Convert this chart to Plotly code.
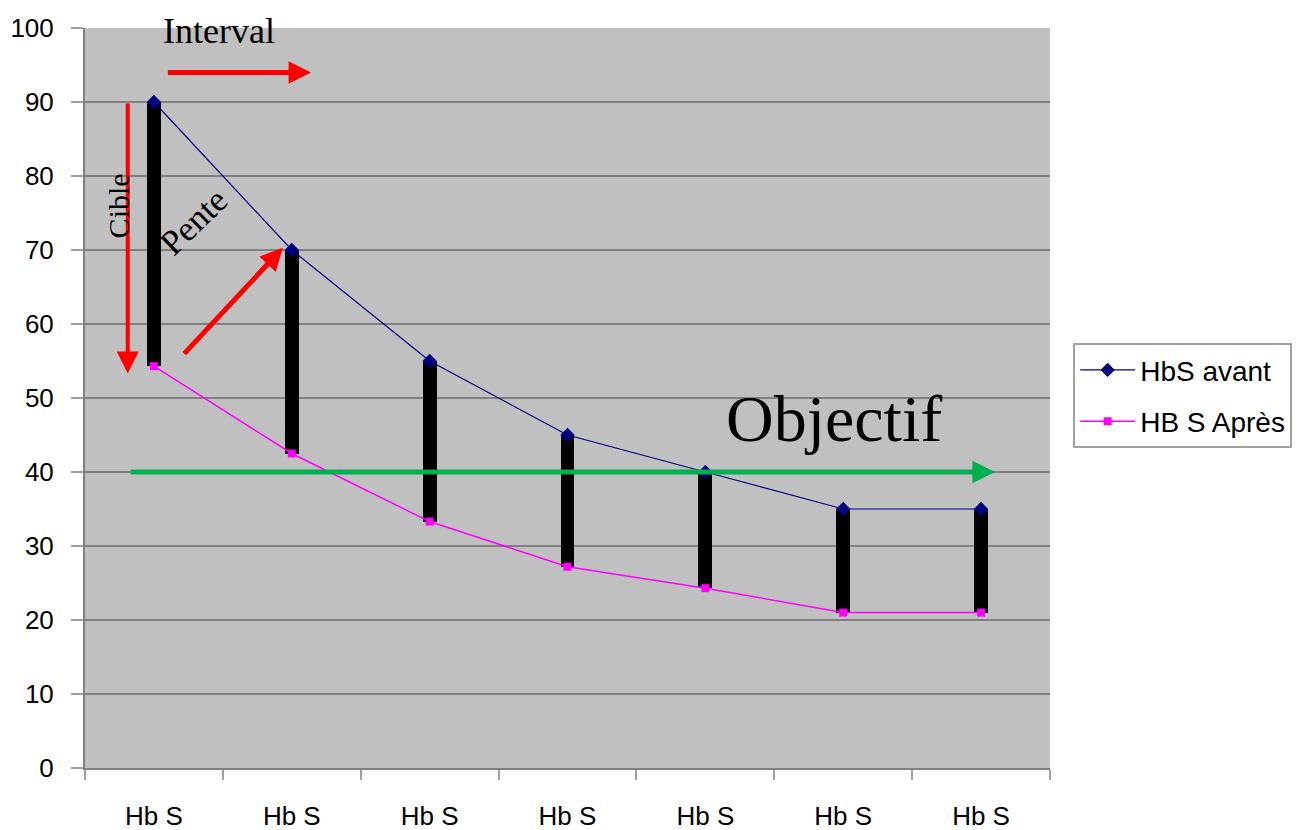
import plotly.graph_objects as go

categories = ["Hb S", "Hb S", "Hb S", "Hb S", "Hb S", "Hb S", "Hb S"]
hbs_avant = [90, 70, 55, 45, 40, 35, 35]
hbs_apres = [54.3, 42.5, 33.3, 27.2, 24.3, 21, 21]
objectif = 40
y_ticks = list(range(0, 101, 10))

x = list(range(len(categories)))

fig = go.Figure()

# high-low bars (black) between the two series
fig.add_trace(go.Bar(
    x=x, y=[a - b for a, b in zip(hbs_avant, hbs_apres)], base=hbs_apres,
    width=0.1, marker=dict(color="black", line=dict(width=0)),
    showlegend=False, hoverinfo="skip"))

fig.add_trace(go.Scatter(
    x=x, y=hbs_avant, mode="lines+markers", name="HbS avant", legendgroup="a",
    line=dict(color="#000080", width=1.2),
    marker=dict(symbol="diamond", size=11, color="#000080")))
fig.add_trace(go.Scatter(
    x=x, y=hbs_apres, mode="lines+markers", name="HB S Après", legendgroup="b",
    line=dict(color="#ff00ff", width=1.5),
    marker=dict(symbol="square", size=8, color="#ff00ff")))

serif = "Liberation Serif, Times New Roman, serif"
sans = "Liberation Sans, Arial, sans-serif"

annotations = [
    # Interval text + arrow
    dict(x=0.47, y=99.6, xref="x", yref="y", text="Interval", showarrow=False,
         font=dict(family=serif, size=36, color="black")),
    dict(x=1.14, y=94.0, ax=0.09, ay=94.0, xref="x", yref="y", axref="x", ayref="y",
         text="", showarrow=True, arrowhead=2, arrowsize=0.9, arrowwidth=5,
         arrowcolor="#ff0000", standoff=0, startstandoff=0),
    # vertical arrow (Cible)
    dict(x=-0.19, y=53.3, ax=-0.19, ay=90, xref="x", yref="y", axref="x", ayref="y",
         text="", showarrow=True, arrowhead=2, arrowsize=1.1, arrowwidth=4,
         arrowcolor="#ff0000", standoff=0, startstandoff=0),
    dict(x=-0.255, y=76, xref="x", yref="y", text="Cible", textangle=-90,
         showarrow=False, font=dict(family=serif, size=30, color="black")),
    # Pente
    dict(x=0.29, y=73.8, xref="x", yref="y", text="Pente", textangle=-44,
         showarrow=False, font=dict(family=serif, size=35, color="black")),
    dict(x=0.935, y=70.3, ax=0.21, ay=55.8, xref="x", yref="y", axref="x", ayref="y",
         text="", showarrow=True, arrowhead=2, arrowsize=0.9, arrowwidth=5,
         arrowcolor="#ff0000", standoff=0, startstandoff=0),
    # Objectif
    dict(x=6.1, y=objectif, ax=-0.18, ay=objectif, xref="x", yref="y", axref="x", ayref="y",
         text="", showarrow=True, arrowhead=2, arrowsize=0.9, arrowwidth=5,
         arrowcolor="#00b050", standoff=0, startstandoff=0),
    dict(x=4.93, y=47.2, xref="x", yref="y", text="Objectif", showarrow=False,
         font=dict(family=serif, size=66, color="black")),
]

fig.update_layout(
    width=1295, height=822,
    margin=dict(l=77, r=253, t=20, b=62, autoexpand=False),
    paper_bgcolor="white", plot_bgcolor="#c0c0c0",
    font=dict(family=sans, size=26, color="black"),
    showlegend=True,
    legend=dict(x=1.024, y=0.574, xanchor="left", yanchor="top",
                bgcolor="white", bordercolor="#a0a0a0", borderwidth=2,
                font=dict(family=sans, size=28, color="black"),
                tracegroupgap=12, itemwidth=55),
    annotations=annotations,
    bargap=0,
)

fig.update_xaxes(
    range=[-0.5, 6.5], tickmode="array", tickvals=x, ticktext=categories,
    ticks="", showgrid=False, zeroline=False, automargin=False,
    showline=True, linecolor="#808080", linewidth=2,
    ticklabelstandoff=24,
    tickfont=dict(family=sans, size=26),
    minor=dict(tickmode="linear", tick0=-0.5, dtick=1, ticks="outside",
               ticklen=10, tickcolor="#a0a0a0", tickwidth=2, showgrid=False),
)
fig.update_yaxes(
    range=[0, 100], tickmode="array", tickvals=y_ticks,
    ticks="outside", ticklen=12, tickcolor="#a0a0a0", tickwidth=2,
    showgrid=True, gridcolor="#808080", gridwidth=1.5, zeroline=False,
    showline=True, linecolor="#808080", linewidth=2, automargin=False,
    ticklabelstandoff=12,
    tickfont=dict(family=sans, size=26),
)

fig.write_html("out.html")
